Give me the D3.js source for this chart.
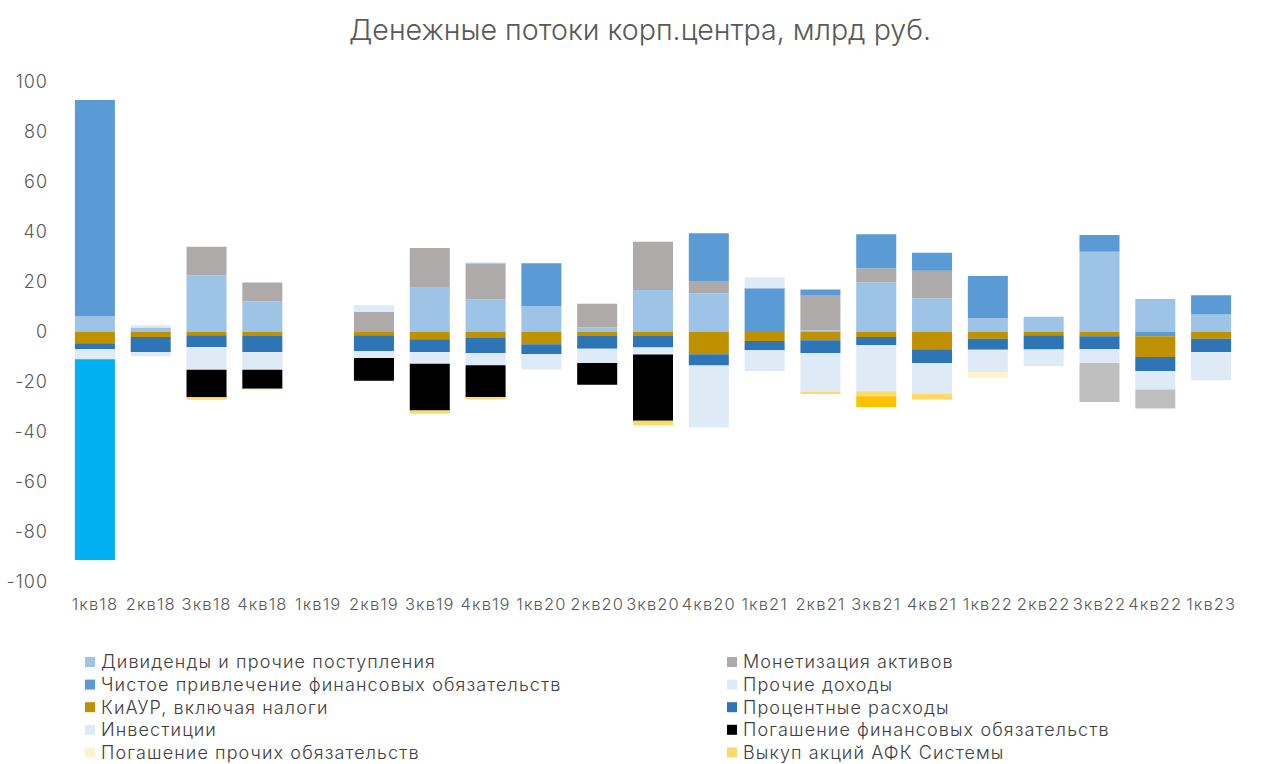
<!DOCTYPE html>
<html><head><meta charset="utf-8">
<script src="https://cdn.jsdelivr.net/npm/d3@7"></script>
<style>body{margin:0;background:#fff;} svg{display:block;font-family:'Inter','Open Sans',sans-serif;}</style>
</head><body>
<svg id="chart" width="1280" height="764"></svg>
<script>
const categories = ['1кв18','2кв18','3кв18','4кв18','1кв19','2кв19','3кв19','4кв19','1кв20','2кв20','3кв20','4кв20','1кв21','2кв21','3кв21','4кв21','1кв22','2кв22','3кв22','4кв22','1кв23'];
const yTicks = [-100,-80,-60,-40,-20,0,20,40,60,80,100];

const dividends    = [6.3, 1.8, 22.7, 12.3, 0, 0, 17.7, 13, 10.4, 1.9, 16.8, 15.5, 0, 0.7, 19.9, 13.5, 5.5, 6.1, 32.1, 13.2, 7];
const monetization = [0, 0, 11.4, 7.5, 0, 8, 15.9, 14.5, 0, 9.3, 19.3, 4.9, 0, 14.1, 5.6, 11, 0, 0, 0, 0, 0];
const netBorrowing = [86.5, 0, 0, 0, 0, 0, 0, 0, 17.1, 0, 0, 19.1, 17.5, 2.2, 13.6, 7.2, 16.9, 0, 6.7, -1.7, 7.7];
const otherIncome  = [0, 0.9, 0, 0, 0, 2.7, 0, 0.4, 0, 0.4, 0, 0, 4.4, 0, 0, 0, 0, 0, 0, 0, 0];
const capex        = [-4.5, -2, -1.3, -1.6, 0, -1.3, -2.9, -2.4, -4.9, -1.6, -1.6, -8.9, -3.6, -3.3, -2, -6.9, -2.7, -1.3, -1.7, -8.3, -2.7];
const interest     = [-2.4, -6, -4.7, -6.4, 0, -6.3, -5.1, -6, -4, -5.1, -4.6, -4.5, -3.7, -5.1, -3.3, -5.5, -4.4, -5.7, -5.2, -5.6, -5.3];
const investments  = [-4, -1.7, -9.1, -7.1, 0, -2.8, -4.7, -4.9, -6.1, -5.7, -2.8, -24.8, -8.3, -15.6, -18.4, -12.2, -8.9, -6.7, -5.5, -7.4, -11.3];
const debtRepay    = [0, 0, -11, -7.6, 0, -9.1, -18.7, -12.7, 0, -8.7, -26.5, 0, 0, 0, 0, 0, 0, 0, 0, 0, 0];
const otherRepay   = [0, 0, 0, -0.6, 0, 0, 0, 0, 0, 0, 0, 0, 0, 0, 0, 0, -2.3, 0, 0, 0, 0];
const buyback      = [0, 0, -1, 0, 0, 0, -1.3, -1, 0, 0, -1.8, 0, 0, -0.8, -2, -2.4, 0, 0, 0, 0, 0];
const extraValues  = [-80.3, 0, 0, 0, 0, 0, 0, 0, 0, 0, 0, 0, 0, 0, -4.3, 0, 0, 0, -15.6, -7.6, 0];
const extraColors  = ['#00B0F0', null, null, null, null, null, null, null, null, null, null, null, null, null, '#FFC000', null, null, null, '#BFBFBF', '#BFBFBF', null];

// series in stacking order (legend row-wise order)
const seriesNames  = ['Дивиденды и прочие поступления','Монетизация активов','Чистое привлечение финансовых обязательств','Прочие доходы','КиАУР, включая налоги','Процентные расходы','Инвестиции','Погашение финансовых обязательств','Погашение прочих обязательств','Выкуп акций АФК Системы'];
const seriesColors = ['#9DC3E6','#AEAAAA','#5B9BD5','#DEEBF7','#BF9000','#2E75B6','#DEEBF7','#000000','#FFF2CC','#FFD966'];
const seriesValues = [dividends, monetization, netBorrowing, otherIncome, capex, interest, investments, debtRepay, otherRepay, buyback];

const svg = d3.select('#chart');
const x = d3.scaleBand().domain(categories).range([67, 1239]).paddingInner(0.283).paddingOuter(0.1415);
const y = d3.scaleLinear().domain([-100, 100]).range([582, 82]);

// build segments with Excel-like pos/neg stacking
const segs = [];
categories.forEach((c, i) => {
  let pos = 0, neg = 0;
  const all = seriesValues.map((arr, s) => ({v: arr[i], color: seriesColors[s]}));
  all.push({v: extraValues[i], color: extraColors[i]});
  all.forEach(d => {
    if (!d.v) return;
    if (d.v > 0) { segs.push({c, y0: pos, y1: pos + d.v, color: d.color}); pos += d.v; }
    else { segs.push({c, y0: neg + d.v, y1: neg, color: d.color}); neg += d.v; }
  });
});

svg.append('g').selectAll('rect').data(segs).join('rect')
  .attr('x', d => x(d.c)).attr('width', x.bandwidth())
  .attr('y', d => y(d.y1)).attr('height', d => y(d.y0) - y(d.y1))
  .attr('fill', d => d.color);

// y axis
const yAxis = svg.append('g').attr('transform', 'translate(48,0)')
  .call(d3.axisLeft(y).tickValues(yTicks).tickFormat(d => String(d)).tickSize(0).tickPadding(0));
yAxis.select('.domain').remove();
yAxis.selectAll('text').attr('fill', '#595959').attr('font-size', 18).attr('font-weight', 300)
  .attr('letter-spacing', '1px').attr('font-family', "'Inter',sans-serif");

// x axis
const xAxis = svg.append('g').attr('transform', 'translate(0,598)')
  .call(d3.axisBottom(x).tickSize(0).tickPadding(0));
xAxis.select('.domain').remove();
xAxis.selectAll('text').attr('fill', '#595959').attr('font-size', 16.5).attr('font-weight', 300)
  .attr('letter-spacing', '1.1px').attr('font-family', "'Inter',sans-serif");

// title
svg.append('text').attr('x', 640).attr('y', 40).attr('text-anchor', 'middle')
  .attr('fill', '#595959').attr('font-size', 28.6).attr('font-weight', 300)
  .text('Денежные потоки корп.центра, млрд руб.');

// legend (two columns, row-wise)
const leg = svg.append('g');
seriesNames.forEach((name, s) => {
  const col = s % 2, row = Math.floor(s / 2);
  const lx = col === 0 ? 85 : 727;
  const ly = 662 + row * 22.6;
  leg.append('rect').attr('x', lx).attr('y', ly - 5).attr('width', 10).attr('height', 10).attr('fill', seriesColors[s]);
  leg.append('text').attr('x', lx + 16).attr('y', ly).attr('dy', '0.35em')
    .attr('fill', '#404040').attr('font-size', 18).attr('font-weight', 300)
    .attr('letter-spacing', '1.1px').text(name);
});
</script>
</body></html>
